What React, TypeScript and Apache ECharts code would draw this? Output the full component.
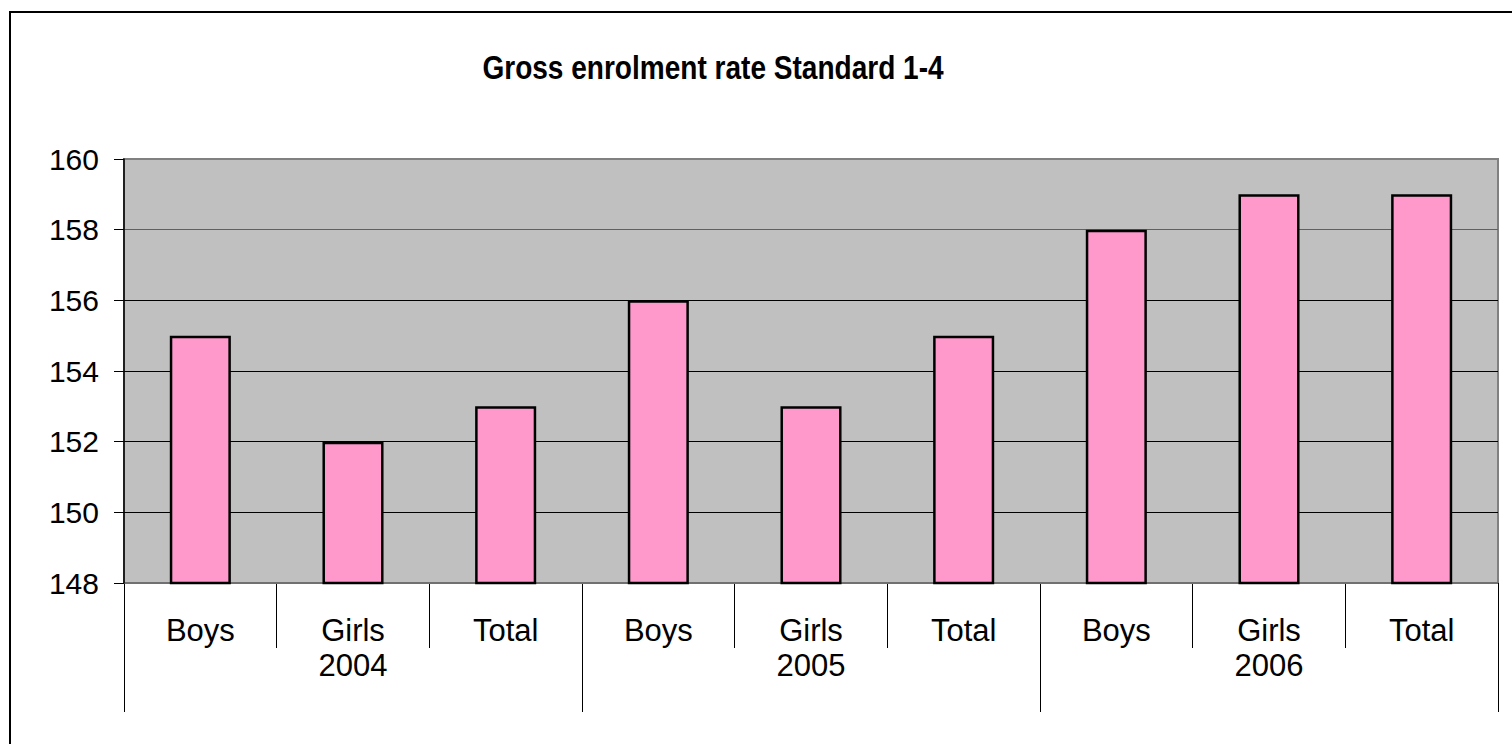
import React, { useEffect, useRef } from "react";
import * as echarts from "echarts";

const titleText = "Gross enrolment rate Standard 1-4";
const categories = ["Boys", "Girls", "Total", "Boys", "Girls", "Total", "Boys", "Girls", "Total"];
const years = ["2004", "2005", "2006"];
const values = [155, 152, 153, 156, 153, 155, 158, 159, 159];
const yMin = 148;
const yMax = 160;
const yInterval = 2;

const FONT = '"Liberation Sans", Arial, sans-serif';

export default function App() {
  const ref = useRef<HTMLDivElement>(null);
  useEffect(() => {
    if (!ref.current) return;
    const chart = echarts.init(ref.current, null, { renderer: "svg" });
    chart.setOption({
      animation: false,
      backgroundColor: "#ffffff",
      textStyle: { fontFamily: FONT },
      graphic: [
        {
          type: "rect",
          shape: { x: 10, y: 12, width: 1600, height: 800 },
          style: { fill: "none", stroke: "#000", lineWidth: 2 },
          z: 0,
        },
        {
          type: "text",
          x: 713,
          y: 67,
          scaleX: 0.85,
          style: {
            text: titleText,
            x: 0,
            y: 0,
            textAlign: "center",
            textVerticalAlign: "middle",
            font: `bold 33px ${FONT}`,
            fill: "#000",
          },
        },
      ],
      grid: {
        left: 124,
        top: 159,
        right: 14,
        bottom: 161,
        show: true,
        backgroundColor: "#C0C0C0",
        borderColor: "#808080",
        borderWidth: 2,
      },
      xAxis: [
        {
          type: "category",
          data: categories,
          position: "bottom",
          boundaryGap: true,
          axisLine: { show: true, lineStyle: { color: "#707070", width: 2 } },
          axisTick: { show: true, interval: 0, length: 65, lineStyle: { color: "#000", width: 1 } },
          axisLabel: { interval: 0, margin: 32, fontSize: 31, lineHeight: 31, color: "#000", fontFamily: FONT },
          splitLine: { show: false },
          z: 3,
        },
        {
          type: "category",
          data: years,
          position: "bottom",
          boundaryGap: true,
          axisLine: { show: false },
          axisTick: { show: true, interval: 0, length: 129, lineStyle: { color: "#000", width: 1 } },
          axisLabel: { interval: 0, margin: 67, fontSize: 31, lineHeight: 31, color: "#000", fontFamily: FONT },
          splitLine: { show: false },
        },
      ],
      yAxis: {
        type: "value",
        min: yMin,
        max: yMax,
        interval: yInterval,
        axisLine: { show: true, lineStyle: { color: "#000", width: 1.5 } },
        axisTick: { show: true, length: 10, lineStyle: { color: "#000" } },
        axisLabel: { margin: 25, fontSize: 30, color: "#000", fontFamily: FONT },
        splitLine: {
          show: true,
          lineStyle: {
            color: ["#707070", "#000", "#000", "#000", "#000", "#606060", "#808080"],
            width: 1,
          },
        },
        z: 4,
      },
      series: [
        {
          type: "bar",
          xAxisIndex: 0,
          data: values,
          barWidth: "40%",
          itemStyle: { color: "#FF99CC", borderColor: "#000", borderWidth: 2.5 },
          z: 5,
        },
      ],
    });
    return () => chart.dispose();
  }, []);
  return (
    <div
      ref={ref}
      style={{ position: "fixed", left: 0, top: 0, width: 1512, height: 744 }}
    />
  );
}
